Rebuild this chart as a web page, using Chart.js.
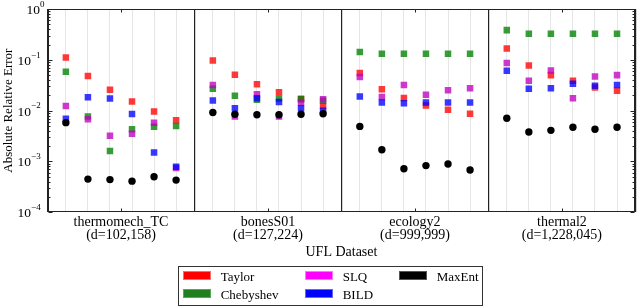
<!DOCTYPE html>
<html>
<head>
<meta charset="utf-8">
<script src="https://cdn.jsdelivr.net/npm/chart.js@4.4.1/dist/chart.umd.min.js"></script>
<style>
html, body { margin: 0; padding: 0; background: #fff; }
#wrap { position: relative; width: 640px; height: 308px; }
#legend { position: absolute; left: 178px; top: 266px; width: 305px; height: 40px; border: 1px solid #333;
  box-sizing: border-box; font-family: "Liberation Serif", serif; font-size: 13px; color: #000; }
.sw { position: absolute; width: 28px; height: 9px; box-sizing: border-box; }
.lb { position: absolute; white-space: nowrap; line-height: 13px; }
</style>
</head>
<body>
<div id="wrap">
  <canvas id="myChart" width="640" height="308"></canvas>
  <div id="legend"></div>
</div>
<script>
// UFL datasets (one panel each), 6 runs per panel
const datasetNames = ["thermomech_TC", "bonesS01", "ecology2", "thermal2"];
const datasetDims = ["(d=102,158)", "(d=127,224)", "(d=999,999)", "(d=1,228,045)"];
const methods = ["Taylor", "Chebyshev", "SLQ", "BILD", "MaxEnt"];

const taylor = [
    0.111, 0.048, 0.0257, 0.0151, 0.0096, 0.0065,
    0.097, 0.051, 0.033, 0.023, 0.0172, 0.0124,
    0.055, 0.0265, 0.0178, 0.0126, 0.0104, 0.0087,
    0.167, 0.077, 0.050, 0.0386, 0.0285, 0.0245,
];
const chebyshev = [
    0.058, 0.0077, 0.0016, 0.0043, 0.0048, 0.0050,
    0.027, 0.0196, 0.0163, 0.0173, 0.0167, 0.0156,
    0.142, 0.131, 0.131, 0.131, 0.131, 0.131,
    0.384, 0.325, 0.325, 0.325, 0.325, 0.325,
];
const slq = [
    0.0124, 0.0068, 0.0032, 0.0035, 0.0058, 0.00074,
    0.032, 0.0077, 0.021, 0.0077, 0.0145, 0.0168,
    0.046, 0.0185, 0.032, 0.0205, 0.0253, 0.0277,
    0.087, 0.0386, 0.0616, 0.0176, 0.047, 0.050,
];
const bild = [
    0.0069, 0.0184, 0.0173, 0.0086, 0.0015, 0.00079,
    0.0158, 0.0112, 0.0176, 0.0148, 0.0112, 0.0099,
    0.019, 0.0144, 0.014, 0.0144, 0.0144, 0.0144,
    0.061, 0.0269, 0.0277, 0.034, 0.031, 0.032,
];
const maxent = [
    0.0058, 0.00045, 0.00044, 0.00041, 0.0005, 0.00043,
    0.0092, 0.0085, 0.0083, 0.0083, 0.0085, 0.0087,
    0.0049, 0.0017, 0.00072, 0.00083, 0.00089, 0.00068,
    0.0071, 0.0038, 0.0041, 0.0047, 0.0043, 0.0047,
];
const yDecades = [-4, -3, -2, -1, 0];

const serif = "'Liberation Serif', 'Times New Roman', serif";
const perPanel = 6;
const panelWidth = 20 / 3;
const firstOffset = 5 / 6;
const xOf = (k) => Math.floor(k / perPanel) * panelWidth + firstOffset + (k % perPanel);
const toPoints = (arr) => arr.map((v, k) => ({ x: xOf(k), y: v }));

// x ticks: run positions (light grid), panel edges (dark), panel centres (labels)
const xTicks = [];
const xKinds = [];
for (let p = 0; p < datasetNames.length; p++) {
    xTicks.push(p * panelWidth); xKinds.push("b");
    for (let i = 0; i < perPanel; i++) {
        xTicks.push(p * panelWidth + firstOffset + i); xKinds.push("p");
        if (i === 2) { xTicks.push(p * panelWidth + panelWidth / 2); xKinds.push("c"); }
    }
}
xTicks.push(datasetNames.length * panelWidth); xKinds.push("b");

const styles = {
    Taylor:    { color: "rgba(255,0,0,0.78)", shape: "rect", r: 4.6, order: 4, data: taylor },
    Chebyshev: { color: "rgba(0,128,0,0.78)", shape: "rect", r: 4.6, order: 3, data: chebyshev },
    SLQ:       { color: "rgba(191,0,191,0.78)", shape: "rect", r: 4.6, order: 2, data: slq },
    BILD:      { color: "rgba(0,0,255,0.78)", shape: "rect", r: 4.6, order: 1, data: bild },
    MaxEnt:    { color: "#000", shape: "circle", r: 3.7, order: 0, data: maxent },
};

const frame = {
    id: "frame",
    afterDraw(chart) {
        const { ctx, chartArea: a, scales } = chart;
        const L = Math.round(a.left) + 0.5, R = Math.round(a.right) - 0.5;
        const T = Math.round(a.top) + 0.5, B = Math.round(a.bottom) - 0.5;
        ctx.save();
        ctx.strokeStyle = "#222";
        ctx.lineWidth = 1;
        ctx.strokeRect(L, T, R - L, B - T);
        ctx.beginPath();
        // y ticks, inward on both sides
        yDecades.forEach((d) => {
            for (let m = 1; m <= 9; m++) {
                if (d === 0 && m > 1) break;
                const y = Math.round(scales.y.getPixelForValue(m * Math.pow(10, d))) + 0.5;
                const len = m === 1 ? 4 : 2;
                ctx.moveTo(L, y); ctx.lineTo(L + len, y);
                ctx.moveTo(R, y); ctx.lineTo(R - len, y);
            }
        });
        // x ticks at panel centres, inward top and bottom
        xTicks.forEach((v, i) => {
            if (xKinds[i] !== "c") return;
            const x = Math.round(scales.x.getPixelForValue(v)) + 0.5;
            ctx.moveTo(x, T); ctx.lineTo(x, T + 3);
            ctx.moveTo(x, B); ctx.lineTo(x, B - 3);
        });
        ctx.stroke();
        // y tick labels 10^k
        ctx.fillStyle = "#000";
        ctx.textBaseline = "alphabetic";
        yDecades.forEach((d) => {
            const y = scales.y.getPixelForValue(Math.pow(10, d));
            const exp = d === 0 ? "0" : "\u2212" + Math.abs(d);
            ctx.font = "9px " + serif;
            const ew = ctx.measureText(exp).width;
            const right = d === 0 ? 44.5 : 40.7;
            ctx.textAlign = "left";
            ctx.fillText(exp, right - ew, y - 2.3);
            ctx.font = "13.5px " + serif;
            ctx.textAlign = "right";
            ctx.fillText("10", right - ew, y + 5);
        });
        ctx.restore();
    },
};

const config = {
    type: "scatter",
    data: {
        datasets: methods.map((m) => ({
            label: m,
            data: toPoints(styles[m].data),
            backgroundColor: styles[m].color,
            borderWidth: 0,
            pointStyle: styles[m].shape,
            pointRadius: styles[m].r,
            pointHoverRadius: styles[m].r,
            order: styles[m].order,
        })),
    },
    options: {
        responsive: false,
        animation: false,
        devicePixelRatio: 1,
        layout: { padding: { top: 9, right: 2, bottom: 47, left: 0 } },
        plugins: { legend: { display: false }, tooltip: { enabled: false } },
        scales: {
            x: {
                type: "linear",
                min: 0,
                max: datasetNames.length * panelWidth,
                afterBuildTicks: (s) => { s.ticks = xTicks.map((v) => ({ value: v })); },
                afterFit: (s) => { s.height = 48.7; },
                border: { display: false },
                grid: {
                    drawTicks: false,
                    color: (c) => xKinds[c.index] === "b" ? "#222" : xKinds[c.index] === "p" ? "#e6e6e6" : "rgba(0,0,0,0)",
                    lineWidth: (c) => xKinds[c.index] === "b" ? 1.2 : 1,
                },
                ticks: {
                    autoSkip: false,
                    maxRotation: 0,
                    padding: 3,
                    color: "#000",
                    font: { family: serif, size: 14, lineHeight: 0.96 },
                    callback: (v, i) => {
                        if (xKinds[i] !== "c") return "";
                        const p = Math.floor(v / panelWidth);
                        return [datasetNames[p], datasetDims[p]];
                    },
                },
                title: {
                    display: true,
                    text: "UFL Dataset",
                    color: "#000",
                    font: { family: serif, size: 14 },
                    padding: { top: 0, bottom: 0 },
                },
            },
            y: {
                type: "logarithmic",
                min: 1e-4,
                max: 1,
                afterFit: (s) => { s.width = 47.5; },
                border: { display: false },
                grid: { display: false },
                ticks: { display: false },
                title: {
                    display: true,
                    text: "Absolute Relative Error",
                    color: "#000",
                    font: { family: serif, size: 13 },
                    padding: { top: 1, bottom: 0 },
                },
            },
        },
    },
    plugins: [frame],
};

new Chart(document.getElementById("myChart"), config);

// legend laid out column-wise, 3 columns x 2 rows
const legendItems = [
    { name: "Taylor", fill: "#ff0000", edge: "#ff6a6a", col: 0, row: 0 },
    { name: "Chebyshev", fill: "#1f7f1f", edge: "#55aa55", col: 0, row: 1 },
    { name: "SLQ", fill: "#ff00ff", edge: "#ff77ff", col: 1, row: 0 },
    { name: "BILD", fill: "#0000ff", edge: "#6666ff", col: 1, row: 1 },
    { name: "MaxEnt", fill: "#000000", edge: "#555555", col: 2, row: 0 },
];
const swatchX = [4, 126, 220];
const textX = [41.7, 163.7, 257.7];
const legendEl = document.getElementById("legend");
legendItems.forEach((it) => {
    const sw = document.createElement("div");
    sw.className = "sw";
    sw.style.left = swatchX[it.col] + "px";
    sw.style.top = (4 + it.row * 18) + "px";
    sw.style.background = it.fill;
    sw.style.border = "1px solid " + it.edge;
    legendEl.appendChild(sw);
    const lb = document.createElement("div");
    lb.className = "lb";
    lb.style.left = textX[it.col] + "px";
    lb.style.top = (3.1 + it.row * 18) + "px";
    lb.textContent = it.name;
    legendEl.appendChild(lb);
});
</script>
</body>
</html>
